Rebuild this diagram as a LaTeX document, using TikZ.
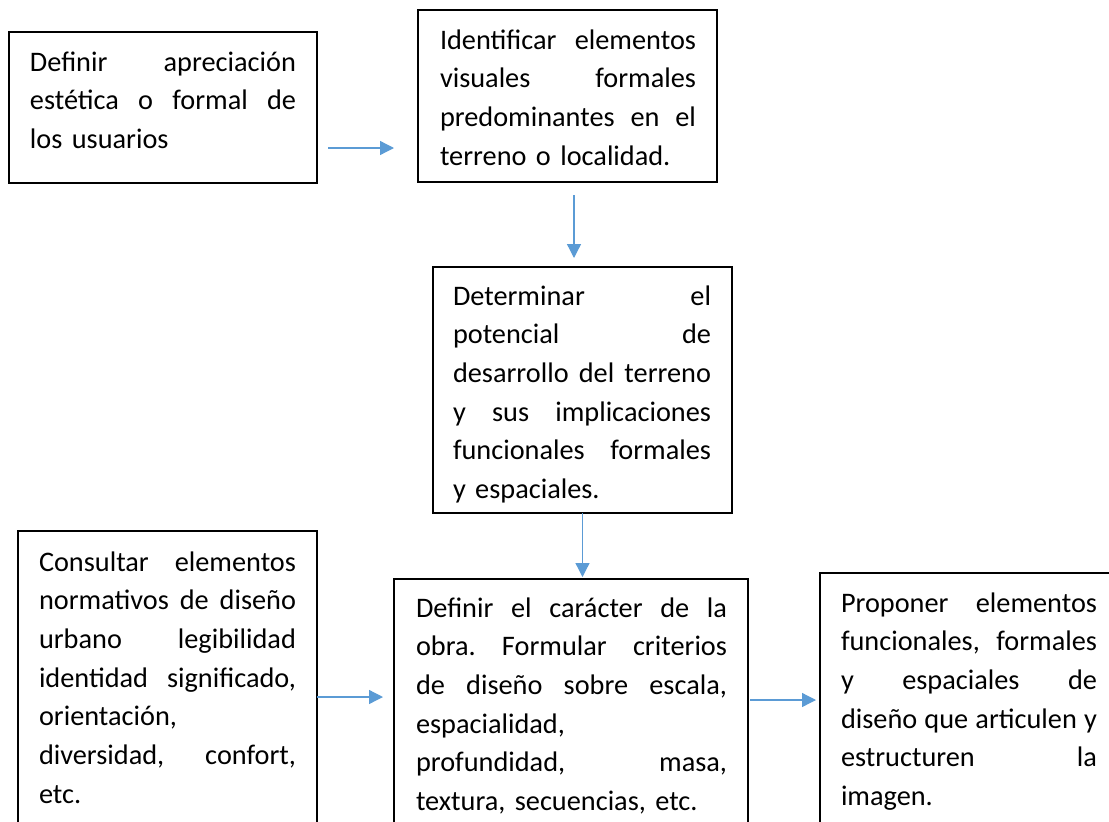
\documentclass[tikz,border=0pt]{standalone}
\usepackage{fontspec}
\setmainfont{Carlito}
\usetikzlibrary{arrows.meta,calc}
\definecolor{arrowblue}{RGB}{91,155,213}
\frenchspacing
\newcommand{\J}[1]{\leavevmode\hbox to \hsize{\spaceskip=0.23em plus 1fil\relax\xspaceskip=\spaceskip #1}}
\tikzset{
  box/.style={draw=black, line width=1.1pt, inner sep=0pt, outer sep=0pt, anchor=north west},
  txt/.style={anchor=base west, inner sep=0pt, outer sep=0pt, text width=#1, align=left,
              font=\fontsize{28.3}{38.7}\selectfont\frenchspacing},
  arr/.style={draw=arrowblue, line width=1.3pt, -{Triangle[length=14pt,width=14pt]}}
}
\begin{document}
\begin{tikzpicture}[x=1pt,y=-1pt]
\useasboundingbox (0,0) rectangle (1109,822);
\clip (0,0) rectangle (1109,822);
% boxes
\node[box, minimum width=308pt, minimum height=151pt] (A) at (9,32) {};
\node[box, minimum width=299pt, minimum height=172pt] (B) at (418,10) {};
\node[box, minimum width=299pt, minimum height=246pt] (C) at (433,267) {};
\node[box, minimum width=299pt, minimum height=320pt] (D) at (18,531) {};
\node[box, minimum width=354pt, minimum height=270pt] (E) at (394,579) {};
\node[box, minimum width=300pt, minimum height=270pt] (F) at (820,573) {};
% texts
\node[txt=266pt] (At) at (30,71) {\J{Definir apreciación}\\\J{estética o formal de}\\los usuarios};
\node[txt=256pt] (Bt) at (440,49) {\J{Identificar elementos}\\\J{visuales formales}\\\J{predominantes en el}\\terreno o localidad.};
\node[txt=258pt] (Ct) at (453,305) {\J{Determinar el}\\\J{potencial de}\\\J{desarrollo del terreno}\\\J{y sus implicaciones}\\\J{funcionales formales}\\y espaciales.};
\node[txt=257pt] (Dt) at (39,571) {\J{Consultar elementos}\\\J{normativos de diseño}\\\J{urbano legibilidad}\\\J{identidad significado,}\\orientación,\\\J{diversidad, confort,}\\etc.};
\node[txt=311pt] (Et) at (416,617) {\J{Definir el carácter de la}\\\J{obra. Formular criterios}\\\J{de diseño sobre escala,}\\espacialidad,\\\J{profundidad, masa,}\\textura, secuencias, etc.};
\node[txt=256pt] (Ft) at (841,612) {\J{Proponer elementos}\\\J{funcionales, formales}\\\J{y espaciales de}\\\J{diseño que articulen y}\\\J{estructuren la}\\imagen.};
% connectors
\draw[arr, shorten <=11pt, shorten >=24pt] ([yshift=35pt]A.south east) -- ([yshift=35pt]A.south east -| B.west);
\draw[arr, shorten <=13pt, shorten >=9pt] ([xshift=6.5pt]B.south) -- ([xshift=6.5pt]B.south |- C.north);
\draw[arr, shorten >=2pt] (C.south) -- (C.south |- E.north);
\draw[arr, shorten >=11pt] ([yshift=-166pt]D.north east) -- ([yshift=-166pt]D.north east -| E.west);
\draw[arr, shorten <=2pt, shorten >=4pt] ([yshift=-121pt]E.north east) -- ([yshift=-121pt]E.north east -| F.west);
\end{tikzpicture}
\end{document}
